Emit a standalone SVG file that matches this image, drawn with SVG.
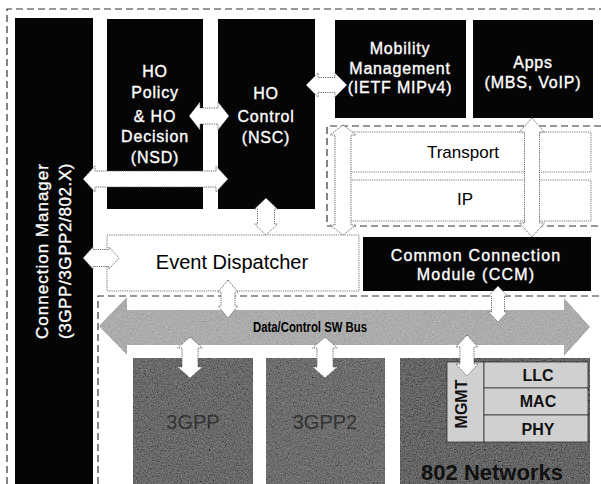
<svg xmlns="http://www.w3.org/2000/svg" width="601" height="484" viewBox="0 0 601 484">
<style>
text{font-family:"Liberation Sans",Arial,sans-serif;}
.blk{fill:#050505;}
.wt{fill:#ffffff;stroke:#ffffff;stroke-width:0.35;font-size:16px;letter-spacing:0.8px;text-anchor:middle;}
.bt{fill:#000;text-anchor:middle;}
.dash{fill:none;stroke:#333;stroke-width:1.2;stroke-dasharray:7,4;}
.box{fill:#fff;stroke:#666;stroke-width:0.9;stroke-dasharray:1.2,1;}
.arr{fill:#fff;stroke:#555;stroke-width:0.9;stroke-dasharray:1.2,1;}
.lay{fill:#d0d0d0;stroke:#333;stroke-width:0.8;}
.lt{fill:#111;font-size:16px;font-weight:bold;text-anchor:middle;}
</style>
<defs>
<filter id="grain" x="0" y="0" width="100%" height="100%">
<feTurbulence type="fractalNoise" baseFrequency="0.75" numOctaves="2" seed="4" result="n"/>
<feColorMatrix in="n" type="matrix" values="0.33 0.33 0.33 0 0 0.33 0.33 0.33 0 0 0.33 0.33 0.33 0 0 0 0 0 0 1" result="g"/>
<feComposite in="SourceGraphic" in2="g" operator="arithmetic" k1="0" k2="1" k3="0.5" k4="-0.25" result="m"/>
<feComposite in="m" in2="SourceAlpha" operator="in"/>
</filter>
</defs>
<rect width="601" height="484" fill="#fff"/>

<!-- dashed frames -->
<path class="dash" d="M7,484 V9 H601"/>
<path class="dash" d="M601,126 H327 V226 H601"/>
<path class="dash" d="M98,484 V296 H601"/>

<g id="connection-manager">
<rect class="blk" x="15" y="18" width="78" height="466"/>
<text class="wt" transform="translate(48,251) rotate(-90)" style="font-size:17px;letter-spacing:1px">Connection Manager</text>
<text class="wt" transform="translate(71,251) rotate(-90)" style="font-size:17px;letter-spacing:0.6px">(3GPP/3GPP2/802.X)</text>
</g>

<g id="ho-policy">
<rect class="blk" x="107" y="19" width="96" height="190"/>
<text class="wt" x="155" y="77">HO</text>
<text class="wt" x="155" y="98">Policy</text>
<text class="wt" x="155" y="122">&amp; HO</text>
<text class="wt" x="155" y="142">Decision</text>
<text class="wt" x="155" y="163">(NSD)</text>
</g>

<g id="ho-control">
<rect class="blk" x="218" y="19" width="97" height="190"/>
<text class="wt" x="266" y="99">HO</text>
<text class="wt" x="266" y="122">Control</text>
<text class="wt" x="266" y="143">(NSC)</text>
</g>

<g id="mobility-management">
<rect class="blk" x="335" y="20" width="131" height="98"/>
<text class="wt" x="400" y="54">Mobility</text>
<text class="wt" x="400" y="74">Management</text>
<text class="wt" x="400" y="93">(IETF MIPv4)</text>
</g>

<g id="apps">
<rect class="blk" x="473" y="20" width="120" height="98"/>
<text class="wt" x="533" y="68">Apps</text>
<text class="wt" x="533" y="88">(MBS, VoIP)</text>
</g>

<g id="transport">
<rect class="box" x="350" y="132" width="241" height="40"/>
<text class="bt" x="463" y="158" style="font-size:17px">Transport</text>
</g>

<g id="ip">
<rect class="box" x="350" y="180" width="241" height="41"/>
<text class="bt" x="465" y="205" style="font-size:17px">IP</text>
</g>

<g id="event-dispatcher">
<rect class="box" x="107" y="235" width="252" height="56"/>
<text class="bt" x="232" y="269" style="font-size:20px">Event Dispatcher</text>
</g>

<g id="ccm">
<rect class="blk" x="363" y="237" width="228" height="54"/>
<text class="wt" x="476" y="261" style="letter-spacing:1.2px">Common Connection</text>
<text class="wt" x="476" y="280" style="letter-spacing:1.2px">Module (CCM)</text>
</g>

<g id="bus">
<polygon fill="#acacac" filter="url(#grain)" points="99,326 127,297 127,310 564,310 564,298 590,327 564,356 564,345 127,345 127,355"/>
<text x="310" y="332" text-anchor="middle" style="font-size:15px;font-weight:bold" fill="#000" textLength="114" lengthAdjust="spacingAndGlyphs">Data/Control SW Bus</text>
</g>

<g id="3gpp">
<rect x="133" y="358" width="120" height="126" fill="#6a6a6a" filter="url(#grain)"/>
<text x="193" y="429" text-anchor="middle" style="font-size:20px" fill="#333">3GPP</text>
</g>

<g id="3gpp2">
<rect x="266" y="358" width="119" height="126" fill="#6e6e6e" filter="url(#grain)"/>
<text x="325" y="429" text-anchor="middle" style="font-size:20px" fill="#333">3GPP2</text>
</g>

<g id="802-networks">
<rect x="400" y="358" width="190" height="126" fill="#666" filter="url(#grain)"/>
<text x="492" y="480" text-anchor="middle" style="font-size:22px;font-weight:bold" fill="#111">802 Networks</text>
</g>

<g id="mgmt">
<rect class="lay" x="447" y="362" width="37" height="80"/>
<text class="lt" transform="translate(467,404) rotate(-90)">MGMT</text>
</g>
<g id="llc">
<rect class="lay" x="484" y="362" width="104" height="26"/>
<text class="lt" x="538" y="381">LLC</text>
</g>
<g id="mac">
<rect class="lay" x="484" y="388" width="104" height="27"/>
<text class="lt" x="538" y="407">MAC</text>
</g>
<g id="phy">
<rect class="lay" x="484" y="415" width="104" height="27"/>
<text class="lt" x="538" y="435">PHY</text>
</g>

<g id="connectors">
<polygon class="arr" points="83,179 95,166 95,171 216,171 216,166 228,179 216,192 216,187 95,187 95,192"/>
<polygon class="arr" points="189,116 200,102 200,108 218,108 218,102 229,116 218,130 218,124 200,124 200,130"/>
<polygon class="arr" points="266,198 277.5,209 274.5,209 274.5,224 277.5,224 266,235 254.5,224 257.5,224 257.5,209 254.5,209"/>
<polygon class="arr" points="306,85 318,73 318,77.5 335,77.5 335,73 347,85 335,97 335,92.5 318,92.5 318,97"/>
<polygon class="arr" points="343,125 356,135 351,135 351,225 356,225 343,235 330,225 335,225 335,135 330,135"/>
<polygon class="arr" points="532,118 544.5,132 539.5,132 539.5,223 544.5,223 532,237 519.5,223 524.5,223 524.5,132 519.5,132"/>
<polygon class="arr" points="83,258 93,247 93,249.5 109,249.5 109,247 119,258 109,269 109,266.5 93,266.5 93,269"/>
<polygon class="arr" points="228,280 238,292 235,292 235,306 238,306 228,318 218,306 221,306 221,292 218,292"/>
<polygon class="arr" points="190,337 202.5,348 198,348 198,367 202.5,367 190,378 177.5,367 182,367 182,348 177.5,348"/>
<polygon class="arr" points="325,337 337.5,348 333,348 333,367 337.5,367 325,378 312.5,367 317,367 317,348 312.5,348"/>
<polygon class="arr" points="498,286 507.5,296 504.5,296 504.5,312 507.5,312 498,322 488.5,312 491.5,312 491.5,296 488.5,296"/>
<polygon class="arr" points="467,335 478,347 474,347 474,364 478,364 467,376 456,364 460,364 460,347 456,347"/>
</g>
</svg>
